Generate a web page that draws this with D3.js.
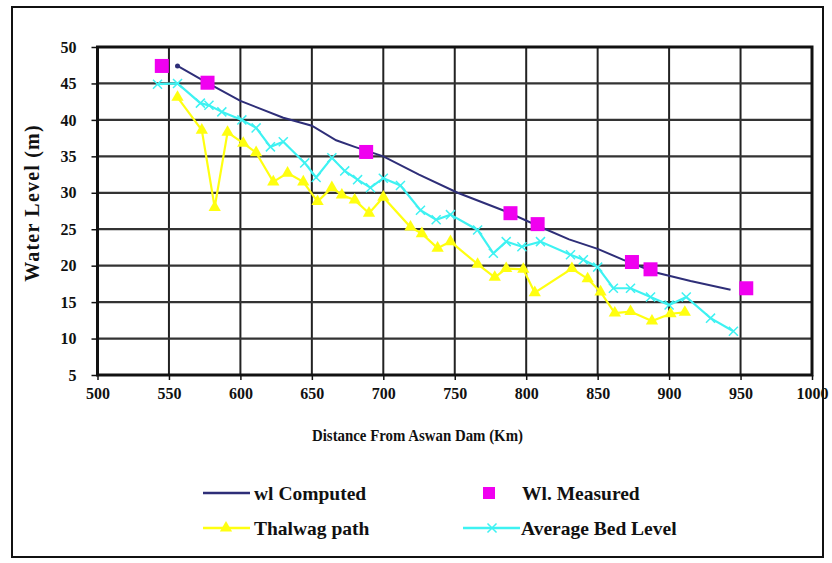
<!DOCTYPE html>
<meta charset="utf-8">
<html>
<script src="https://d3js.org/d3.v7.min.js"></script>
<style>
    body { margin: 0; background: #fff; }
    text { font-family: "Liberation Serif", "Times New Roman", serif; font-weight: bold; fill: #111; }
</style>
<body>
<div id="chart"></div>
<script>
    // values
    var xTicks = [500, 550, 600, 650, 700, 750, 800, 850, 900, 950, 1000];
    var yTicks = [5, 10, 15, 20, 25, 30, 35, 40, 45, 50];

    var computedKm = [556, 575, 600, 630, 650, 667, 680, 700, 725, 752, 785, 810, 830, 850, 868, 890, 915, 943];
    var computedWl = [47.4, 45.3, 42.6, 40.3, 39.2, 37.2, 36.3, 35.0, 32.5, 30.0, 27.5, 25.3, 23.6, 22.3, 20.8, 19.1, 17.9, 16.7];

    var measuredKm = [545, 577, 688, 789, 808, 874, 887, 954];
    var measuredWl = [47.4, 45.1, 35.6, 27.2, 25.7, 20.5, 19.5, 16.9];

    var thalwagKm = [556, 573, 582, 591, 602, 611, 623, 633, 644, 654, 664, 671, 680, 690, 700, 719, 727, 738, 747, 766, 778, 786, 798, 806, 832, 843, 852, 862, 873, 888, 901, 911];
    var thalwagWl = [43.1, 38.6, 28.0, 38.3, 36.8, 35.5, 31.5, 32.7, 31.5, 28.8, 30.7, 29.7, 29.0, 27.2, 29.4, 25.3, 24.4, 22.4, 23.3, 20.2, 18.4, 19.6, 19.5, 16.3, 19.6, 18.2, 16.4, 13.5, 13.7, 12.4, 13.4, 13.6];

    var bedKm = [542, 556, 572, 578, 587, 601, 611, 621, 630, 645, 653, 664, 673, 682, 691, 700, 712, 726, 737, 747, 766, 777, 786, 797, 810, 831, 840, 850, 861, 873, 887, 900, 912, 929, 945];
    var bedWl = [44.9, 45.0, 42.3, 42.0, 41.1, 40.0, 38.9, 36.3, 37.0, 34.1, 32.1, 34.8, 33.0, 31.8, 30.7, 32.0, 31.0, 27.6, 26.3, 27.0, 24.9, 21.7, 23.3, 22.6, 23.3, 21.5, 20.8, 19.8, 16.9, 16.9, 15.7, 14.6, 15.7, 12.8, 11.0];

    var legendNames = ["wl Computed", "Wl. Measured", "Thalwag path", "Average Bed Level"];

    var navy = "#2e2e78", magenta = "#f000f0", yellow = "#ffff10", cyan = "#3ef2f2";

    var W = 832, H = 563;
    var svg = d3.select("#chart").append("svg")
        .attr("width", W)
        .attr("height", H);

    // outer frame
    svg.append("rect")
        .attr("x", 12).attr("y", 7)
        .attr("width", 811).attr("height", 550)
        .attr("fill", "#fff").attr("stroke", "#111").attr("stroke-width", 2);

    var x = d3.scaleLinear().domain([500, 1000]).range([97.5, 812]);
    var y = d3.scaleLinear().domain([5, 50]).range([375, 47]);

    // grid
    svg.append("g").selectAll("line").data(xTicks.slice(1, -1)).enter().append("line")
        .attr("x1", function (d) { return x(d); }).attr("x2", function (d) { return x(d); })
        .attr("y1", y(50)).attr("y2", y(5))
        .attr("stroke", "#222").attr("stroke-width", 2);
    svg.append("g").selectAll("line").data(yTicks.slice(1, -1)).enter().append("line")
        .attr("x1", x(500)).attr("x2", x(1000))
        .attr("y1", function (d) { return y(d); }).attr("y2", function (d) { return y(d); })
        .attr("stroke", "#333").attr("stroke-width", 2.2);

    // axes
    var xAxis = svg.append("g")
        .attr("transform", "translate(0," + y(5) + ")")
        .call(d3.axisBottom(x).tickValues(xTicks).tickFormat(d3.format("d")).tickSize(5).tickSizeOuter(0).tickPadding(8));
    var yAxis = svg.append("g")
        .attr("transform", "translate(" + x(500) + ",0)")
        .call(d3.axisLeft(y).tickValues(yTicks).tickFormat(d3.format("d")).tickSize(6).tickSizeOuter(0).tickPadding(15));
    [xAxis, yAxis].forEach(function (a) {
        a.attr("font-size", null).attr("font-family", null);
        a.select(".domain").remove();
        a.selectAll(".tick line").attr("stroke", "#111").attr("stroke-width", 1.5);
        a.selectAll(".tick text").style("font-size", "16px");
    });

    // plot border
    svg.append("rect")
        .attr("x", x(500)).attr("y", y(50))
        .attr("width", x(1000) - x(500)).attr("height", y(5) - y(50))
        .attr("fill", "none").attr("stroke", "#111").attr("stroke-width", 3);

    // axis titles
    svg.append("text")
        .attr("x", 312).attr("y", 441)
        .attr("textLength", 211).attr("lengthAdjust", "spacingAndGlyphs")
        .style("font-size", "17px")
        .text("Distance From Aswan Dam (Km)");
    svg.append("text")
        .attr("transform", "translate(39,203) rotate(-90)")
        .attr("text-anchor", "middle")
        .style("font-size", "20px")
        .style("letter-spacing", "1.2px")
        .text("Water Level (m)");

    function pts(kms, wls) { return kms.map(function (k, i) { return [k, wls[i]]; }); }
    var line = d3.line().x(function (d) { return x(d[0]); }).y(function (d) { return y(d[1]); });

    var thalwag = pts(thalwagKm, thalwagWl);
    var bed = pts(bedKm, bedWl);
    var computed = pts(computedKm, computedWl);
    var measured = pts(measuredKm, measuredWl);

    var tri = d3.symbol().type(d3.symbolTriangle).size(65);
    var cross = d3.symbol().type(d3.symbolX).size(55);

    // thalwag path
    svg.append("path").datum(thalwag)
        .attr("fill", "none").attr("stroke", yellow).attr("stroke-width", 2.2)
        .attr("d", line);
    svg.append("g").selectAll("path").data(thalwag).enter().append("path")
        .attr("transform", function (d) { return "translate(" + x(d[0]) + "," + y(d[1]) + ")"; })
        .attr("d", tri).attr("fill", yellow);

    // average bed level
    svg.append("path").datum(bed)
        .attr("fill", "none").attr("stroke", cyan).attr("stroke-width", 2.2)
        .attr("d", line);
    svg.append("g").selectAll("path").data(bed).enter().append("path")
        .attr("transform", function (d) { return "translate(" + x(d[0]) + "," + y(d[1]) + ")"; })
        .attr("d", cross).attr("fill", cyan).attr("stroke", cyan).attr("stroke-width", 1.5);

    // computed water level
    svg.append("path").datum(computed)
        .attr("fill", "none").attr("stroke", navy).attr("stroke-width", 2)
        .attr("d", line);
    svg.append("circle")
        .attr("cx", x(computedKm[0])).attr("cy", y(computedWl[0])).attr("r", 2.5)
        .attr("fill", navy);

    // measured
    svg.append("g").selectAll("rect").data(measured).enter().append("rect")
        .attr("x", function (d) { return x(d[0]) - 7; })
        .attr("y", function (d) { return y(d[1]) - 7; })
        .attr("width", 14).attr("height", 14)
        .attr("fill", magenta);

    // legend
    var lg = svg.append("g").style("font-size", "19.5px");
    lg.append("line").attr("x1", 203).attr("x2", 250).attr("y1", 493).attr("y2", 493)
        .attr("stroke", navy).attr("stroke-width", 2.5);
    lg.append("text").attr("x", 254).attr("y", 500).text(legendNames[0]);

    lg.append("rect").attr("x", 483).attr("y", 487).attr("width", 12).attr("height", 12).attr("fill", magenta);
    lg.append("text").attr("x", 522).attr("y", 500).text(legendNames[1]);

    lg.append("line").attr("x1", 203).attr("x2", 250).attr("y1", 528).attr("y2", 528)
        .attr("stroke", yellow).attr("stroke-width", 2.5);
    lg.append("path").attr("transform", "translate(226,528)").attr("d", tri).attr("fill", yellow);
    lg.append("text").attr("x", 254).attr("y", 535).text(legendNames[2]);

    lg.append("line").attr("x1", 463).attr("x2", 520).attr("y1", 528).attr("y2", 528)
        .attr("stroke", cyan).attr("stroke-width", 2.5);
    lg.append("path").attr("transform", "translate(492,528)").attr("d", cross).attr("fill", cyan).attr("stroke", cyan).attr("stroke-width", 1.5);
    lg.append("text").attr("x", 521).attr("y", 535).text(legendNames[3]);
</script>
</body>
</html>
